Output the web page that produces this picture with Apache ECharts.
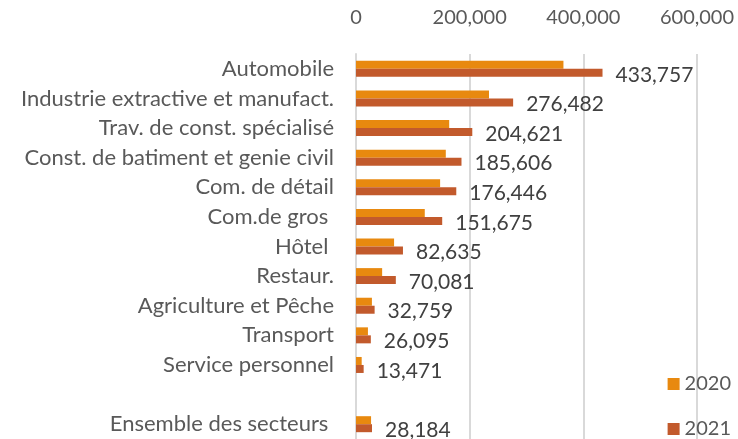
<!DOCTYPE html>
<html>
<head>
<meta charset="utf-8">
<script src="https://cdn.jsdelivr.net/npm/echarts@6/dist/echarts.min.js"></script>
<style>
  html, body { margin: 0; padding: 0; background: #fff; }
  #chart { width: 738px; height: 439px; }
</style>
</head>
<body>
<div id="chart"></div>
<script>
// secteurs, du haut vers le bas (ligne vide avant l'ensemble)
var categories = ['Automobile', 'Industrie extractive et manufact.', 'Trav. de const. spécialisé',
    'Const. de batiment et genie civil', 'Com. de détail', 'Com.de gros ', 'Hôtel ', 'Restaur.',
    'Agriculture et Pêche', 'Transport', 'Service personnel', '', 'Ensemble des secteurs '];
var values2020 = [365000, 234000, 164000, 158000, 148000, 121000, 67000, 46000, 28000, 21000, 10000, null, 26500];
var values2021 = [433757, 276482, 204621, 185606, 176446, 151675, 82635, 70081, 32759, 26095, 13471, null, 28184];
var axisTicks = [0, 200000, 400000, 600000];

var font = 'Lato';

function fmt(v) {
    return Number(v).toLocaleString('en-US');
}

var myChart = echarts.init(document.getElementById('chart'));

var option = {
    animation: false,
    legend: {
        data: ['2020', '2021'],
        orient: 'vertical',
        right: 2,
        bottom: -5,
        itemWidth: 12,
        itemHeight: 12,
        itemGap: 25,
        icon: 'rect',
        textStyle: { color: '#595959', fontSize: 20, fontFamily: font }
    },
    grid: {
        left: 356,
        right: 41,
        top: 54,
        bottom: 0
    },
    xAxis: {
        type: 'value',
        position: 'top',
        min: axisTicks[0],
        max: axisTicks[axisTicks.length - 1],
        interval: axisTicks[1] - axisTicks[0],
        axisLine: { show: false },
        axisTick: { show: false },
        splitLine: { lineStyle: { color: '#d9d9d9', width: 2 } },
        axisLabel: {
            margin: 26,
            color: '#595959',
            fontSize: 20,
            fontFamily: font,
            formatter: fmt
        }
    },
    yAxis: {
        type: 'category',
        inverse: true,
        data: categories,
        axisLine: { lineStyle: { color: '#d9d9d9', width: 2 } },
        axisTick: { show: false },
        axisLabel: {
            margin: 22,
            color: '#595959',
            fontSize: 22,
            fontFamily: font
        }
    },
    series: [
        {
            name: '2020',
            type: 'bar',
            data: values2020,
            barWidth: 8,
            barGap: '0%',
            itemStyle: { color: '#E8890F' }
        },
        {
            name: '2021',
            type: 'bar',
            data: values2021,
            barWidth: 8,
            itemStyle: { color: '#C25A2C' },
            label: {
                show: true,
                position: 'right',
                distance: 13,
                offset: [0, 2],
                color: '#404040',
                fontSize: 21,
                fontFamily: font,
                formatter: function (p) { return fmt(p.value); }
            }
        }
    ]
};

myChart.setOption(option);
</script>
</body>
</html>
